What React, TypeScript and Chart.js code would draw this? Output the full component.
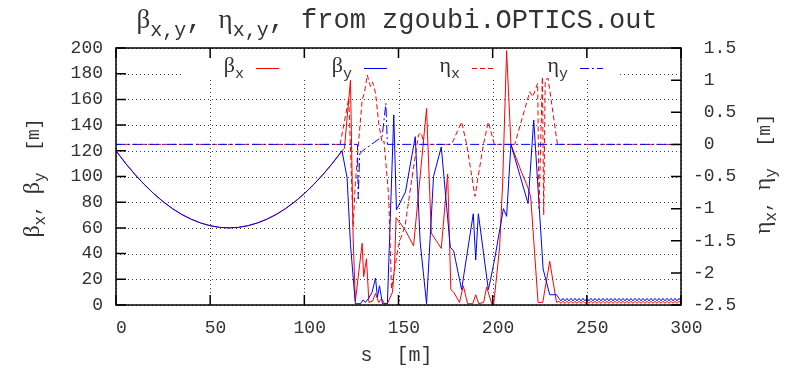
import React, { useEffect, useRef } from 'react';
import { Chart, registerables } from 'chart.js';

Chart.register(...registerables);

// ---- data (s in m) ----
// drift section shared by beta_x and beta_y
const driftS = [0, 5, 10, 15, 20, 25, 30, 35, 40, 45, 50, 55, 60, 65, 70, 75, 80, 85, 90, 95, 100, 105, 110, 115, 120];
const driftBeta = [120, 110.4, 101.7, 93.8, 86.7, 80.4, 75, 70.4, 66.7, 63.8, 61.7, 60.4, 60, 60.4, 61.7, 63.8, 66.7, 70.4, 75, 80.4, 86.7, 93.8, 101.7, 110.4, 120];

const betaXS = [121.3, 124.5, 125.9, 127.1, 130.7, 131.5, 133.0, 134.3, 136.2, 137.8, 139.5, 141.0, 142.6, 144.1, 146.8, 147.9, 148.7, 153.7, 158.0, 164.9, 167.4, 172.7, 176.1, 177.8, 179.3, 182.4, 184.4, 186.7, 189.4, 191.0, 192.6, 195.2, 196.8, 199.5, 200.5, 203.7, 205.3, 207.4, 209.7, 214.9, 218.8, 220.2, 224.1, 226.6, 230.3, 233.9];
const betaXV = [122, 175, 53, 3, 48, 22, 36, 2, 3, 9, 2, 5, 1, 1, 10, 30, 68, 58, 46, 153, 56, 44, 102, 12, 10, 2, 15, 1, 1, 8, 1, 2, 14, 1, 0, 45, 95, 198, 125, 105, 91, 84, 2, 2, 34, 2];

const betaYS = [122.7, 124.5, 127.1, 129.8, 131.2, 132.4, 134.0, 136.0, 137.8, 138.8, 139.9, 141.5, 144.1, 147.5, 148.9, 153.7, 158.9, 161.5, 164.9, 168.6, 172.7, 177.5, 179.3, 183.5, 189.7, 191.0, 192.4, 197.7, 198.9, 201.2, 205.7, 207.4, 209.7, 218.8, 221.8, 226.8, 230.3, 233.9];
const betaYV = [99, 47, 1, 1, 4, 2, 5, 10, 21, 6, 15, 1, 1, 148, 74, 88, 131, 49, 1, 100, 123, 45, 42, 12, 71, 35, 71, 12, 20, 37, 75, 69, 125, 79, 144, 28, 8, 8];

// periodic tail section
const tailS = [235.2, 236.3, 237.3, 238.4, 239.4, 240.5, 241.6, 242.6, 243.7, 244.8, 245.8, 246.9, 247.9, 249.0, 250.1, 251.1, 252.2, 253.3, 254.3, 255.4, 256.4, 257.5, 258.6, 259.6, 260.7, 261.8, 262.8, 263.9, 264.9, 266.0, 267.1, 268.1, 269.2, 270.3, 271.3, 272.4, 273.4, 274.5, 275.6, 276.6, 277.7, 278.8, 279.8, 280.9, 281.9, 283.0, 284.1, 285.1, 286.2, 287.3, 288.3, 289.4, 290.4, 291.5, 292.6, 293.6, 294.7, 295.8, 296.8, 297.9, 298.9, 300.0];
const tailBetaX = [2.9, 1.3, 2.9, 1.3, 2.9, 1.3, 2.9, 1.3, 2.9, 1.3, 2.9, 1.3, 2.9, 1.3, 2.9, 1.3, 2.9, 1.3, 2.9, 1.3, 2.9, 1.3, 2.9, 1.3, 2.9, 1.3, 2.9, 1.3, 2.9, 1.3, 2.9, 1.3, 2.9, 1.3, 2.9, 1.3, 2.9, 1.3, 2.9, 1.3, 2.9, 1.3, 2.9, 1.3, 2.9, 1.3, 2.9, 1.3, 2.9, 1.3, 2.9, 1.3, 2.9, 1.3, 2.9, 1.3, 2.9, 1.3, 2.9, 1.3, 2.9, 1.3];
const tailBetaY = [5.2, 3.2, 5.2, 3.2, 5.2, 3.2, 5.2, 3.2, 5.2, 3.2, 5.2, 3.2, 5.2, 3.2, 5.2, 3.2, 5.2, 3.2, 5.2, 3.2, 5.2, 3.2, 5.2, 3.2, 5.2, 3.2, 5.2, 3.2, 5.2, 3.2, 5.2, 3.2, 5.2, 3.2, 5.2, 3.2, 5.2, 3.2, 5.2, 3.2, 5.2, 3.2, 5.2, 3.2, 5.2, 3.2, 5.2, 3.2, 5.2, 3.2, 5.2, 3.2, 5.2, 3.2, 5.2, 3.2, 5.2, 3.2, 5.2, 3.2, 5.2, 3.2];

const etaXS = [0, 119.0, 123.6, 125.9, 127.1, 128.9, 130.7, 131.9, 133.4, 135.1, 136.2, 137.8, 139.5, 141.3, 142.3, 144.8, 146.3, 150.0, 153.6, 157.1, 160.6, 162.2, 163.3, 178.2, 183.5, 186.2, 190.6, 195.1, 197.7, 200.9, 211.7, 219.7, 221.3, 223.9, 224.6, 226.4, 227.1, 227.9, 229.4, 234.4, 300];
const etaXV = [0, 0, 0.72, -1.28, -0.6, 0.07, 0.69, 0.8, 1.08, 0.9, 0.97, 0.8, 0.33, 0.02, 0.05, -0.81, -2.25, -1.57, -1.25, -0.53, 0.15, 0.18, 0, 0, 0.35, 0, -0.81, 0, 0.35, 0, 0, 0.82, 0.74, 0.95, -1.0, 1.05, -1.1, 1.0, 1.03, 0, 0];

const etaYS = [0, 128.2, 128.6, 129.4, 130.9, 141.3, 143.3, 144.1, 300];
const etaYV = [0, 0, -0.85, -0.15, -0.1, 0.12, 0.64, 0, 0];

const xTicks = { min: 0, max: 300, step: 50 };
const yTicks = { min: 0, max: 200, step: 20 };
const y2Ticks = { min: -2.5, max: 1.5, step: 0.5 };

const MONO = '"Liberation Mono", "DejaVu Sans Mono", monospace';
const SERIF = '"Liberation Serif", "DejaVu Serif", serif';
const RED = '#ff0000';
const BLUE = '#0000ff';
const TEXT = '#333';

const zip = (xs: number[], ys: number[]) => xs.map((x, i) => ({ x, y: ys[i] }));

type Part = { t: string; font: string; dy?: number };

function drawRich(ctx: CanvasRenderingContext2D, parts: Part[], x: number, y: number, align: 'left' | 'center' | 'right') {
  let total = 0;
  for (const p of parts) { ctx.font = p.font; total += ctx.measureText(p.t).width; }
  let cx = align === 'center' ? x - total / 2 : align === 'right' ? x - total : x;
  for (const p of parts) {
    ctx.font = p.font;
    ctx.fillText(p.t, cx, y + (p.dy || 0));
    cx += ctx.measureText(p.t).width;
  }
}

const gnuplotPlugin = {
  id: 'gnuplotLook',
  beforeDatasetsDraw(chart: any) {
    const { ctx, chartArea: a, scales } = chart;
    ctx.save();
    ctx.strokeStyle = 'rgba(0,0,0,0.75)';
    ctx.lineWidth = 1;
    ctx.setLineDash([1, 3]);
    for (const t of scales.x.ticks) {
      const px = Math.round(scales.x.getPixelForValue(t.value)) + 0.5;
      ctx.beginPath(); ctx.moveTo(px, a.top); ctx.lineTo(px, a.bottom); ctx.stroke();
    }
    for (const t of scales.y.ticks) {
      const py = Math.round(scales.y.getPixelForValue(t.value)) + 0.5;
      ctx.beginPath(); ctx.moveTo(a.left, py); ctx.lineTo(a.right, py); ctx.stroke();
    }
    ctx.setLineDash([]);
    // opaque key area
    ctx.fillStyle = '#ffffff';
    ctx.fillRect(a.left + 66, a.top + 1, 436, 31);
    ctx.restore();
  },
  afterDatasetsDraw(chart: any) {
    const { ctx, chartArea: a, scales } = chart;
    ctx.save();
    ctx.strokeStyle = '#000';
    ctx.lineWidth = 1.5;
    ctx.strokeRect(a.left, a.top, a.right - a.left, a.bottom - a.top);
    const TL = 10;
    ctx.beginPath();
    for (const t of scales.x.ticks) {
      const px = scales.x.getPixelForValue(t.value);
      ctx.moveTo(px, a.bottom); ctx.lineTo(px, a.bottom - TL);
      ctx.moveTo(px, a.top); ctx.lineTo(px, a.top + TL);
    }
    for (const t of scales.y.ticks) {
      const py = scales.y.getPixelForValue(t.value);
      ctx.moveTo(a.left, py); ctx.lineTo(a.left + TL, py);
    }
    for (const t of scales.y2.ticks) {
      const py = scales.y2.getPixelForValue(t.value);
      ctx.moveTo(a.right, py); ctx.lineTo(a.right - TL, py);
    }
    ctx.stroke();

    // key
    const entries = [
      { g: 'β', s: 'x', color: RED, dash: [] as number[] },
      { g: 'β', s: 'y', color: BLUE, dash: [] as number[] },
      { g: 'η', s: 'x', color: RED, dash: [5, 3] },
      { g: 'η', s: 'y', color: BLUE, dash: [9, 3, 2, 3] },
    ];
    ctx.fillStyle = TEXT;
    ctx.textBaseline = 'alphabetic';
    entries.forEach((e, i) => {
      const sx = a.left + 140 + i * 108;
      const sy = a.top + 20.5;
      drawRich(ctx, [
        { t: e.g, font: `22px ${SERIF}` },
        { t: e.s, font: `15px ${MONO}`, dy: 6 },
      ], sx - 12, a.top + 24, 'right');
      ctx.strokeStyle = e.color;
      ctx.lineWidth = 1;
      ctx.setLineDash(e.dash);
      ctx.beginPath(); ctx.moveTo(sx, sy); ctx.lineTo(sx + 23, sy); ctx.stroke();
      ctx.setLineDash([]);
    });
    ctx.restore();
  },
  afterDraw(chart: any) {
    const { ctx, chartArea: a } = chart;
    ctx.save();
    ctx.fillStyle = TEXT;
    ctx.textBaseline = 'alphabetic';
    // title
    drawRich(ctx, [
      { t: 'β', font: `27px ${SERIF}` },
      { t: 'x,y', font: `20px ${MONO}`, dy: 8 },
      { t: ', ', font: `27px ${MONO}` },
      { t: 'η', font: `27px ${SERIF}` },
      { t: 'x,y', font: `20px ${MONO}`, dy: 8 },
      { t: ', from zgoubi.OPTICS.out', font: `27px ${MONO}` },
    ], 397, 28, 'center');
    // x axis title
    drawRich(ctx, [{ t: 's  [m]', font: `20px ${MONO}` }], (a.left + a.right) / 2 - 2, 361, 'center');
    // left axis title
    ctx.save();
    ctx.translate(32, 178);
    ctx.rotate(-Math.PI / 2);
    drawRich(ctx, [
      { t: 'β', font: `24px ${SERIF}` },
      { t: 'x', font: `16px ${MONO}`, dy: 6 },
      { t: ', ', font: `18px ${MONO}` },
      { t: 'β', font: `24px ${SERIF}` },
      { t: 'y', font: `16px ${MONO}`, dy: 6 },
      { t: '  [m]', font: `18px ${MONO}` },
    ], 0, 7, 'center');
    ctx.restore();
    // right axis title
    ctx.save();
    ctx.translate(765, 174);
    ctx.rotate(-Math.PI / 2);
    drawRich(ctx, [
      { t: 'η', font: `24px ${SERIF}` },
      { t: 'x', font: `16px ${MONO}`, dy: 6 },
      { t: ', ', font: `18px ${MONO}` },
      { t: 'η', font: `24px ${SERIF}` },
      { t: 'y', font: `16px ${MONO}`, dy: 6 },
      { t: '  [m]', font: `18px ${MONO}` },
    ], 0, 5, 'center');
    ctx.restore();
    ctx.restore();
  },
};

export default function App() {
  const ref = useRef<HTMLCanvasElement | null>(null);
  useEffect(() => {
    if (!ref.current) return;
    const tickFont = { family: MONO, size: 18 };
    const line = (data: any[], color: string, dash: number[], axis: string, order: number) => ({
      data,
      showLine: true,
      borderColor: color,
      backgroundColor: color,
      borderWidth: 1,
      borderDash: dash,
      pointRadius: 0,
      fill: false,
      tension: 0,
      yAxisID: axis,
      order,
    });
    const chart = new Chart(ref.current, {
      type: 'scatter',
      data: {
        datasets: [
          line([...zip(driftS, driftBeta), ...zip(betaXS, betaXV), ...zip(tailS, tailBetaX)], RED, [], 'y', 3),
          line([...zip(driftS, driftBeta), ...zip(betaYS, betaYV), ...zip(tailS, tailBetaY)], BLUE, [], 'y', 2),
          line(zip(etaXS, etaXV), RED, [5, 3], 'y2', 1),
          line(zip(etaYS, etaYV), BLUE, [9, 3, 2, 3], 'y2', 0),
        ] as any,
      },
      options: {
        responsive: false,
        animation: false,
        devicePixelRatio: 1,
        layout: { padding: { top: 48, left: 0, right: 0, bottom: 0 } },
        plugins: { legend: { display: false }, tooltip: { enabled: false }, title: { display: false } },
        scales: {
          x: {
            type: 'linear', position: 'bottom', min: xTicks.min, max: xTicks.max,
            ticks: { stepSize: xTicks.step, callback: (v: any) => ' ' + v, font: tickFont, color: TEXT, padding: 12, maxRotation: 0, autoSkip: false },
            grid: { display: false, drawTicks: false }, border: { display: false },
            afterFit: (s: any) => { s.height = 66; },
          },
          y: {
            type: 'linear', position: 'left', min: yTicks.min, max: yTicks.max,
            ticks: { stepSize: yTicks.step, font: tickFont, color: TEXT, padding: 13, autoSkip: false },
            grid: { display: false, drawTicks: false }, border: { display: false },
            afterFit: (s: any) => { s.width = 116; },
          },
          y2: {
            type: 'linear', position: 'right', min: y2Ticks.min, max: y2Ticks.max,
            ticks: {
              stepSize: y2Ticks.step, font: tickFont, color: TEXT, padding: 12, autoSkip: false,
              callback: (v: any) => { const r = Math.round(v * 10) / 10; return r < 0 ? String(r) : ' ' + r; },
            },
            grid: { display: false, drawTicks: false }, border: { display: false },
            afterFit: (s: any) => { s.width = 108; },
          },
        },
      } as any,
      plugins: [gnuplotPlugin as any],
    });
    return () => chart.destroy();
  }, []);
  return (
    <div style={{ position: 'fixed', left: 0, top: 0, width: 789, height: 371, background: '#fff' }}>
      <canvas ref={ref} width={789} height={371} style={{ width: 789, height: 371, display: 'block' }} />
    </div>
  );
}
